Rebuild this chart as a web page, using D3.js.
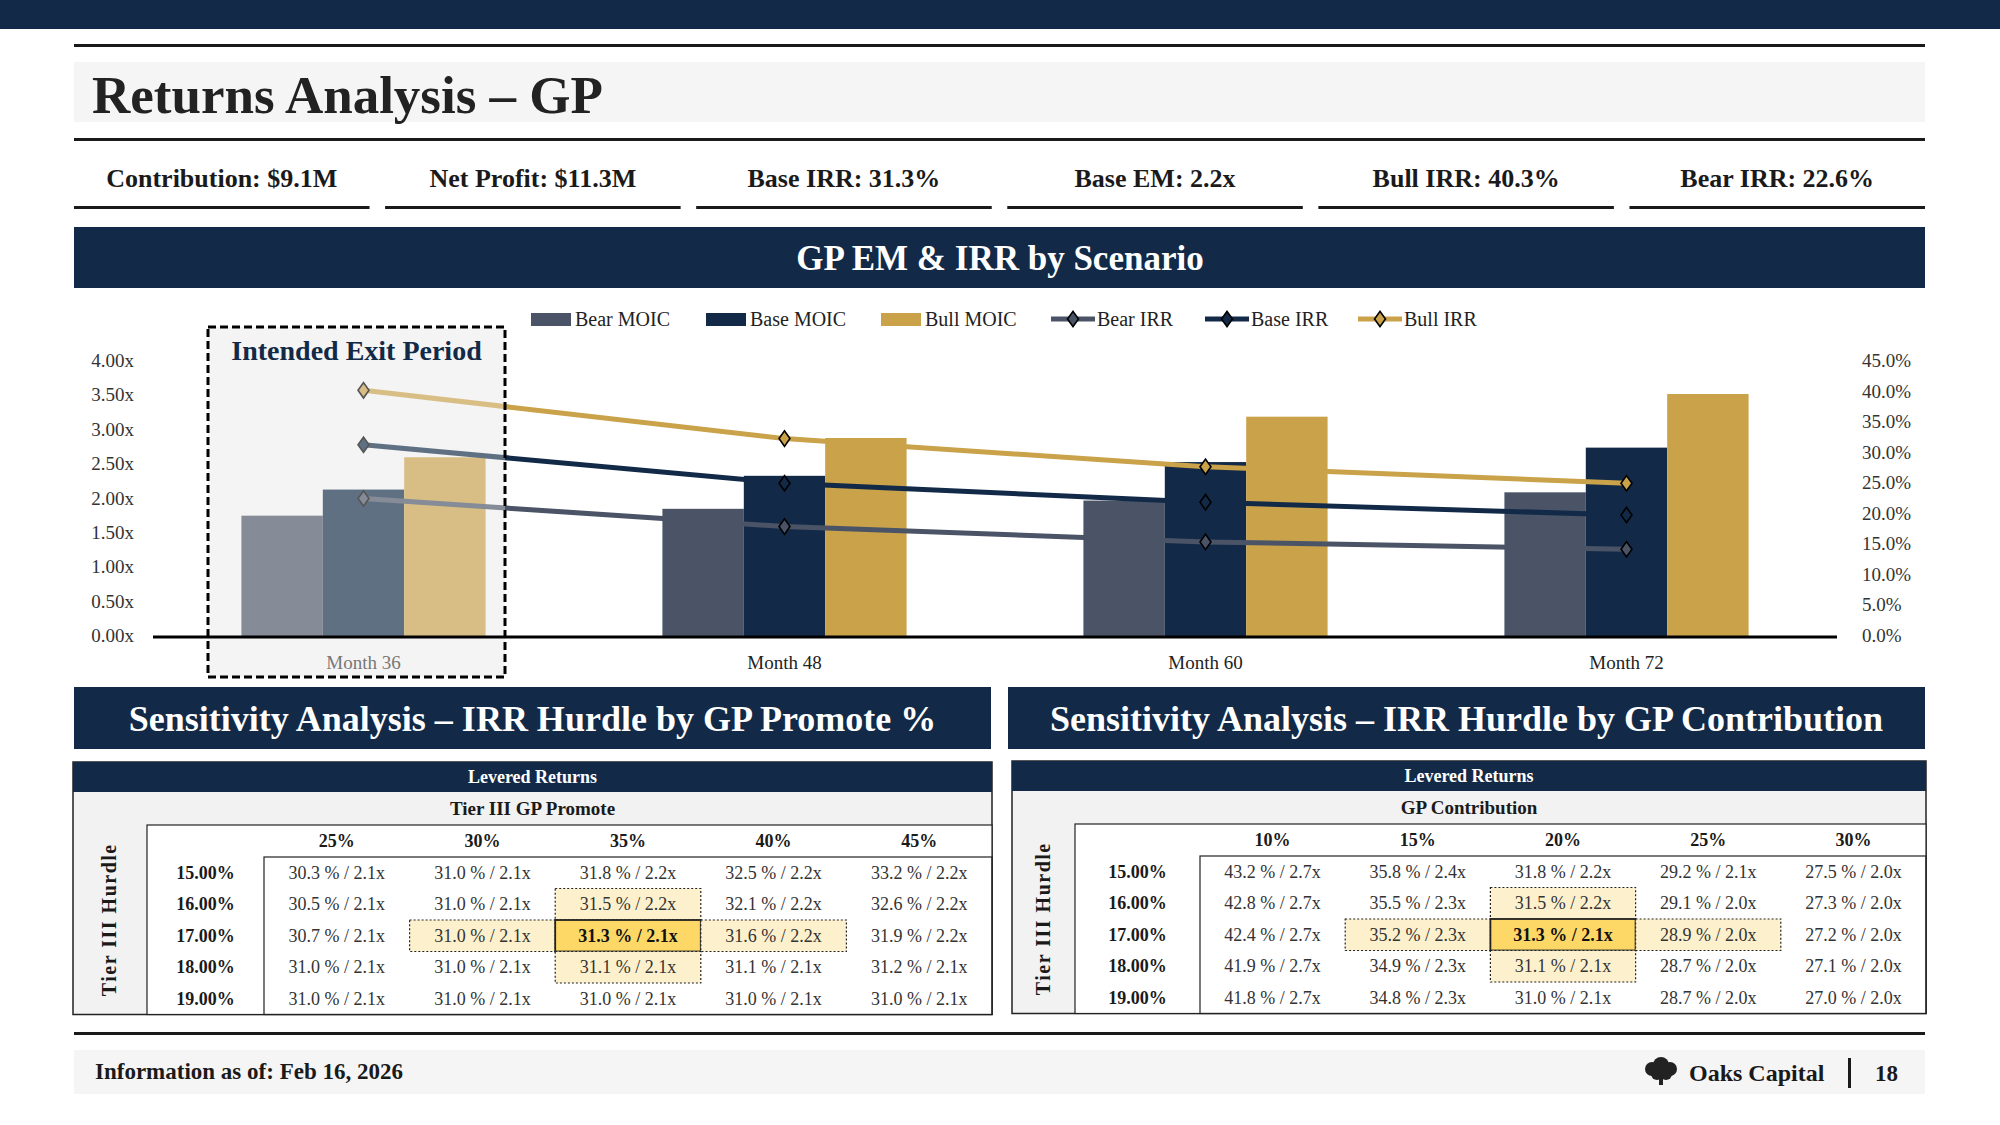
<!DOCTYPE html>
<html lang="en">
<head>
<meta charset="UTF-8">
<title>Returns Analysis – GP</title>
<style>
  body { margin: 0; padding: 0; background: #fff; }
  svg { display: block; font-family: "Liberation Serif", "DejaVu Serif", serif; }
</style>
</head>
<body>
<svg id="page" width="2000" height="1125"></svg>
<script src="https://d3js.org/d3.v7.min.js"></script>
<script>
// ---- data ----
var kpis = ["Contribution: $9.1M", "Net Profit: $11.3M", "Base IRR: 31.3%", "Base EM: 2.2x", "Bull IRR: 40.3%", "Bear IRR: 22.6%"];
var months = ["Month 36", "Month 48", "Month 60", "Month 72"];
var bearMoic = [1.75, 1.85, 1.97, 2.09];
var baseMoic = [2.13, 2.33, 2.53, 2.74];
var bullMoic = [2.60, 2.88, 3.19, 3.52];
var bearIrr = [22.5, 17.9, 15.4, 14.2];
var baseIrr = [31.3, 25.0, 21.9, 19.8];
var bullIrr = [40.2, 32.3, 27.7, 25.0];
var moicTicks = [0, 0.5, 1, 1.5, 2, 2.5, 3, 3.5, 4];
var irrTicks = [0, 5, 10, 15, 20, 25, 30, 35, 40, 45];

var hurdles = ["15.00%", "16.00%", "17.00%", "18.00%", "19.00%"];
var promoteCols = ["25%", "30%", "35%", "40%", "45%"];
var promoteVals = [
  ["30.3 % / 2.1x", "31.0 % / 2.1x", "31.8 % / 2.2x", "32.5 % / 2.2x", "33.2 % / 2.2x"],
  ["30.5 % / 2.1x", "31.0 % / 2.1x", "31.5 % / 2.2x", "32.1 % / 2.2x", "32.6 % / 2.2x"],
  ["30.7 % / 2.1x", "31.0 % / 2.1x", "31.3 % / 2.1x", "31.6 % / 2.2x", "31.9 % / 2.2x"],
  ["31.0 % / 2.1x", "31.0 % / 2.1x", "31.1 % / 2.1x", "31.1 % / 2.1x", "31.2 % / 2.1x"],
  ["31.0 % / 2.1x", "31.0 % / 2.1x", "31.0 % / 2.1x", "31.0 % / 2.1x", "31.0 % / 2.1x"]
];
var contribCols = ["10%", "15%", "20%", "25%", "30%"];
var contribVals = [
  ["43.2 % / 2.7x", "35.8 % / 2.4x", "31.8 % / 2.2x", "29.2 % / 2.1x", "27.5 % / 2.0x"],
  ["42.8 % / 2.7x", "35.5 % / 2.3x", "31.5 % / 2.2x", "29.1 % / 2.0x", "27.3 % / 2.0x"],
  ["42.4 % / 2.7x", "35.2 % / 2.3x", "31.3 % / 2.1x", "28.9 % / 2.0x", "27.2 % / 2.0x"],
  ["41.9 % / 2.7x", "34.9 % / 2.3x", "31.1 % / 2.1x", "28.7 % / 2.0x", "27.1 % / 2.0x"],
  ["41.8 % / 2.7x", "34.8 % / 2.3x", "31.0 % / 2.1x", "28.7 % / 2.0x", "27.0 % / 2.0x"]
];

var NAVY = "#122a48", BEAR = "#4a5466", GOLD = "#c9a24a", INK = "#1a1a1a";
var svg = d3.select("#page");

// ---- header ----
svg.append("rect").attr("x", 0).attr("y", 0).attr("width", 2000).attr("height", 29).attr("fill", NAVY);
svg.append("rect").attr("x", 74).attr("y", 44).attr("width", 1851).attr("height", 3).attr("fill", INK);
svg.append("rect").attr("x", 74).attr("y", 62).attr("width", 1851).attr("height", 60).attr("fill", "#f5f5f5");
svg.append("text").attr("x", 92).attr("y", 113).attr("font-size", 53).attr("font-weight", "bold")
  .attr("fill", "#222").text("Returns Analysis – GP");
svg.append("rect").attr("x", 74).attr("y", 138).attr("width", 1851).attr("height", 3).attr("fill", INK);

var kx = d3.scaleBand().domain(d3.range(kpis.length)).range([74, 1925]).paddingInner(0.05);
kpis.forEach(function (k, i) {
  svg.append("text").attr("x", kx(i) + kx.bandwidth() / 2).attr("y", 187).attr("text-anchor", "middle")
    .attr("font-size", 26).attr("font-weight", "bold").attr("fill", INK).text(k);
  svg.append("rect").attr("x", kx(i)).attr("y", 206).attr("width", kx.bandwidth()).attr("height", 3).attr("fill", INK);
});

// ---- chart ----
svg.append("rect").attr("x", 74).attr("y", 227).attr("width", 1851).attr("height", 61).attr("fill", NAVY);
svg.append("text").attr("x", 1000).attr("y", 270).attr("text-anchor", "middle").attr("font-size", 35)
  .attr("font-weight", "bold").attr("fill", "#fff").text("GP EM & IRR by Scenario");

var plotLeft = 153, plotRight = 1837, plotTop = 361, plotBottom = 636;
var x = d3.scaleBand().domain(months).range([plotLeft, plotRight]).paddingInner(0.42).paddingOuter(0.21);
var xs = d3.scaleBand().domain([0, 1, 2]).range([0, x.bandwidth()]);
var yL = d3.scaleLinear().domain([0, 4]).range([plotBottom, plotTop]);
var yR = d3.scaleLinear().domain([0, 45]).range([plotBottom, plotTop]);

// exit period box background
var boxX = 208, boxW = 297, boxY = 327, boxH = 350;
svg.append("rect").attr("x", boxX).attr("y", boxY).attr("width", boxW).attr("height", boxH).attr("fill", "#f4f4f4");

var g = svg.append("g");
g.selectAll(null).data(moicTicks).enter().append("text")
  .attr("x", 134).attr("y", function (d) { return yL(d) + 6; }).attr("text-anchor", "end")
  .attr("font-size", 19).attr("fill", "#333").text(function (d) { return d.toFixed(2) + "x"; });
g.selectAll(null).data(irrTicks).enter().append("text")
  .attr("x", 1862).attr("y", function (d) { return yR(d) + 6; })
  .attr("font-size", 19).attr("fill", "#333").text(function (d) { return d.toFixed(1) + "%"; });

var barSeries = [
  { name: "Bear MOIC", vals: bearMoic, color: BEAR },
  { name: "Base MOIC", vals: baseMoic, color: NAVY },
  { name: "Bull MOIC", vals: bullMoic, color: GOLD }
];
barSeries.forEach(function (s, si) {
  g.selectAll(null).data(s.vals).enter().append("rect")
    .attr("x", function (d, i) { return x(months[i]) + xs(si); })
    .attr("y", function (d) { return yL(d); })
    .attr("width", xs.bandwidth())
    .attr("height", function (d) { return plotBottom - yL(d); })
    .attr("fill", s.color);
});

var lineSeries = [
  { name: "Bear IRR", vals: bearIrr, color: BEAR },
  { name: "Base IRR", vals: baseIrr, color: NAVY },
  { name: "Bull IRR", vals: bullIrr, color: GOLD }
];
var cx = function (i) { return x(months[i]) + x.bandwidth() / 2; };
var line = d3.line().x(function (d, i) { return cx(i); }).y(function (d) { return yR(d); });
var diamond = d3.symbol().type(d3.symbolSquare).size(60);
var dTrans = " scale(1,1.4) rotate(45)";
lineSeries.forEach(function (s) {
  g.append("path").attr("d", line(s.vals)).attr("fill", "none").attr("stroke", s.color).attr("stroke-width", 5);
  g.selectAll(null).data(s.vals).enter().append("path")
    .attr("d", diamond)
    .attr("transform", function (d, i) { return "translate(" + cx(i) + "," + yR(d) + ")" + dTrans; })
    .attr("fill", s.color).attr("stroke", "#000").attr("stroke-width", 1.4);
});

// fade the intended exit period
svg.append("rect").attr("x", boxX).attr("y", boxY).attr("width", boxW).attr("height", boxH)
  .attr("fill", "#f4f4f4").attr("fill-opacity", 0.35);
svg.append("line").attr("x1", plotLeft).attr("x2", plotRight).attr("y1", plotBottom + 1).attr("y2", plotBottom + 1)
  .attr("stroke", "#000").attr("stroke-width", 3);
svg.append("rect").attr("x", boxX).attr("y", boxY).attr("width", boxW).attr("height", boxH)
  .attr("fill", "none").attr("stroke", "#000").attr("stroke-width", 3).attr("stroke-dasharray", "8,4");
svg.append("text").attr("x", boxX + boxW / 2).attr("y", 360).attr("text-anchor", "middle")
  .attr("font-size", 28).attr("font-weight", "bold").attr("fill", NAVY).text("Intended Exit Period");

svg.selectAll(null).data(months).enter().append("text")
  .attr("x", function (d, i) { return cx(i); }).attr("y", 669).attr("text-anchor", "middle")
  .attr("font-size", 19).attr("fill", function (d, i) { return i === 0 ? "#777" : "#222"; })
  .text(function (d) { return d; });

// legend
var legItems = barSeries.map(function (s) { return { name: s.name, color: s.color, bar: true }; })
  .concat(lineSeries.map(function (s) { return { name: s.name, color: s.color, bar: false }; }));
var legX = [531, 706, 881, 1051, 1205, 1358];
legItems.forEach(function (d, i) {
  var lg = svg.append("g").attr("transform", "translate(" + legX[i] + ",319)");
  if (d.bar) {
    lg.append("rect").attr("x", 0).attr("y", -6).attr("width", 40).attr("height", 13).attr("fill", d.color);
    lg.append("text").attr("x", 44).attr("y", 7).attr("font-size", 20).attr("fill", "#222").text(d.name);
  } else {
    lg.append("line").attr("x1", 0).attr("x2", 44).attr("y1", 0).attr("y2", 0).attr("stroke", d.color).attr("stroke-width", 5);
    lg.append("path").attr("d", diamond).attr("transform", "translate(22,0)" + dTrans)
      .attr("fill", d.color).attr("stroke", "#000").attr("stroke-width", 1.4);
    lg.append("text").attr("x", 46).attr("y", 7).attr("font-size", 20).attr("fill", "#222").text(d.name);
  }
});

// ---- sensitivity tables ----
function sectionHeader(x0, w, title) {
  svg.append("rect").attr("x", x0).attr("y", 687).attr("width", w).attr("height", 62).attr("fill", NAVY);
  svg.append("text").attr("x", x0 + w / 2).attr("y", 731).attr("text-anchor", "middle").attr("font-size", 36)
    .attr("font-weight", "bold").attr("fill", "#fff").text(title);
}
sectionHeader(74, 917, "Sensitivity Analysis – IRR Hurdle by GP Promote %");
sectionHeader(1008, 917, "Sensitivity Analysis – IRR Hurdle by GP Contribution");

function table(x0, x1, y0, innerX, labelW, subTitle, cols, vals) {
  var t = svg.append("g");
  var bandH = 30, subH = 33, headH = 32, rowH = 31.5;
  var yBand = y0, ySub = y0 + bandH, yHead = ySub + subH, yRows = yHead + headH;
  var yEnd = yRows + rowH * vals.length;
  t.append("rect").attr("x", x0).attr("y", yBand).attr("width", x1 - x0).attr("height", yEnd - yBand)
    .attr("fill", "#f2f2f2").attr("stroke", "#222").attr("stroke-width", 1.5);
  t.append("rect").attr("x", x0).attr("y", yBand).attr("width", x1 - x0).attr("height", bandH).attr("fill", NAVY);
  t.append("text").attr("x", (x0 + x1) / 2).attr("y", yBand + 21).attr("text-anchor", "middle")
    .attr("font-size", 18).attr("font-weight", "bold").attr("fill", "#fff").text("Levered Returns");
  t.append("text").attr("x", (x0 + x1) / 2).attr("y", ySub + 23).attr("text-anchor", "middle")
    .attr("font-size", 19).attr("font-weight", "bold").attr("fill", INK).text(subTitle);
  t.append("rect").attr("x", innerX).attr("y", yHead).attr("width", x1 - innerX).attr("height", yEnd - yHead)
    .attr("fill", "#fff").attr("stroke", "#222").attr("stroke-width", 1.2);
  var dataX = innerX + labelW;
  t.append("rect").attr("x", dataX).attr("y", yRows).attr("width", x1 - dataX).attr("height", yEnd - yRows)
    .attr("fill", "none").attr("stroke", "#222").attr("stroke-width", 1.2);
  t.append("text").attr("transform", "translate(" + ((x0 + innerX) / 2 + 6) + "," + ((yHead + yEnd) / 2) + ") rotate(-90)")
    .attr("text-anchor", "middle").attr("font-size", 20).attr("font-weight", "bold").attr("letter-spacing", 1.5)
    .attr("fill", INK).text("Tier III Hurdle");

  var cX = d3.scaleBand().domain(cols).range([dataX, x1]);
  var rY = d3.scaleBand().domain(hurdles).range([yRows, yEnd]);
  t.selectAll(null).data(cols).enter().append("text")
    .attr("x", function (d) { return cX(d) + cX.bandwidth() / 2; }).attr("y", yHead + 22)
    .attr("text-anchor", "middle").attr("font-size", 18).attr("font-weight", "bold").attr("fill", INK)
    .text(function (d) { return d; });
  t.selectAll(null).data(hurdles).enter().append("text")
    .attr("x", innerX + labelW / 2).attr("y", function (d) { return rY(d) + rY.bandwidth() / 2 + 6; })
    .attr("text-anchor", "middle").attr("font-size", 18).attr("font-weight", "bold").attr("fill", INK)
    .text(function (d) { return d; });

  // highlight cross around the base case
  var cells = [];
  vals.forEach(function (row, ri) {
    row.forEach(function (v, ci) { cells.push({ r: ri, c: ci, v: v }); });
  });
  var near = function (d) { return Math.abs(d.r - 2) + Math.abs(d.c - 2) === 1; };
  var base = function (d) { return d.r === 2 && d.c === 2; };
  t.selectAll(null).data(cells.filter(function (d) { return near(d) || base(d); })).enter().append("rect")
    .attr("x", function (d) { return cX(cols[d.c]); }).attr("y", function (d) { return rY(hurdles[d.r]); })
    .attr("width", cX.bandwidth()).attr("height", rY.bandwidth())
    .attr("fill", function (d) { return base(d) ? "#fdd867" : "#fdf1cd"; })
    .attr("stroke", "#222").attr("stroke-width", function (d) { return base(d) ? 1.8 : 1.2; })
    .attr("stroke-dasharray", function (d) { return base(d) ? null : "2,2"; });
  t.selectAll(null).data(cells).enter().append("text")
    .attr("x", function (d) { return cX(cols[d.c]) + cX.bandwidth() / 2; })
    .attr("y", function (d) { return rY(hurdles[d.r]) + rY.bandwidth() / 2 + 6; })
    .attr("text-anchor", "middle").attr("font-size", 18)
    .attr("font-weight", function (d) { return base(d) ? "bold" : "normal"; })
    .attr("fill", function (d) { return base(d) ? "#111" : "#333"; })
    .text(function (d) { return d.v; });
}
table(73, 992, 762, 147, 117, "Tier III GP Promote", promoteCols, promoteVals);
table(1012, 1926, 761, 1075, 125, "GP Contribution", contribCols, contribVals);

// ---- footer ----
svg.append("rect").attr("x", 74).attr("y", 1032).attr("width", 1851).attr("height", 3).attr("fill", INK);
svg.append("rect").attr("x", 74).attr("y", 1050).attr("width", 1851).attr("height", 44).attr("fill", "#f5f5f5");
svg.append("text").attr("x", 95).attr("y", 1079).attr("font-size", 23).attr("font-weight", "bold")
  .attr("fill", INK).text("Information as of: Feb 16, 2026");
var tree = svg.append("g").attr("transform", "translate(1661,1072)");
tree.append("rect").attr("x", -2).attr("y", 0).attr("width", 4).attr("height", 13).attr("fill", "#222");
[[-9, -3, 7], [0, -7, 8], [9, -3, 7], [-4, 2, 6], [5, 2, 6]].forEach(function (c) {
  tree.append("circle").attr("cx", c[0]).attr("cy", c[1]).attr("r", c[2]).attr("fill", "#222");
});
svg.append("text").attr("x", 1689).attr("y", 1081).attr("font-size", 24).attr("font-weight", "bold")
  .attr("fill", INK).text("Oaks Capital");
svg.append("rect").attr("x", 1848).attr("y", 1058).attr("width", 3).attr("height", 30).attr("fill", INK);
svg.append("text").attr("x", 1875).attr("y", 1081).attr("font-size", 23).attr("font-weight", "bold")
  .attr("fill", INK).text("18");
</script>
</body>
</html>
